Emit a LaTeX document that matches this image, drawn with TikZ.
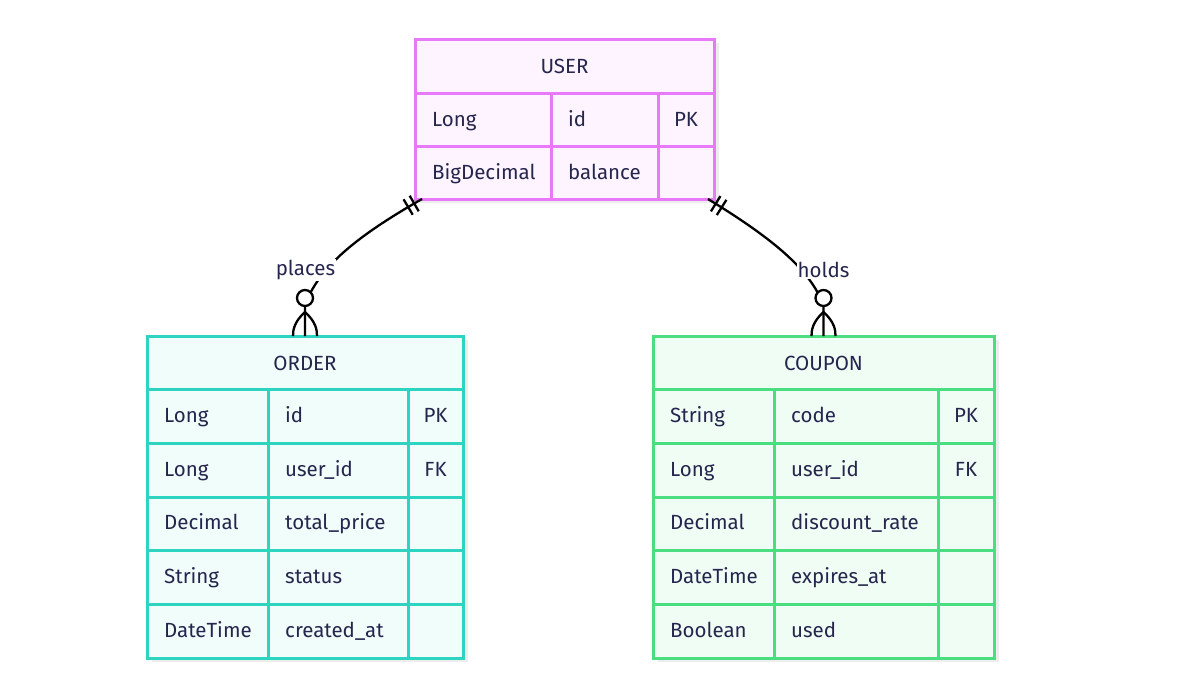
\documentclass[tikz,border=0pt]{standalone}
\usepackage{fontspec}
\setmainfont{Fira Sans}
\usetikzlibrary{decorations.markings,shadows}
\definecolor{ertext}{HTML}{25254D}
\definecolor{userline}{HTML}{E879F9}
\definecolor{userfill}{HTML}{FDF4FF}
\definecolor{orderline}{HTML}{2DD4BF}
\definecolor{orderfill}{HTML}{F0FDFA}
\definecolor{couponline}{HTML}{4ADE80}
\definecolor{couponfill}{HTML}{F0FDF4}
\tikzset{
  entity/.style={draw, line width=3pt, inner sep=0pt, outer sep=0pt,
    drop shadow={shadow xshift=5pt, shadow yshift=-4pt, fill=black!7, opacity=1}},
  cell/.style={anchor=base west, text=ertext, inner sep=0pt, font=\fontsize{20.5}{24}\selectfont},
  headtext/.style={cell, anchor=base},
  keytext/.style={cell, anchor=base},
  rellabel/.style={fill=white, inner sep=1pt, text=ertext, font=\fontsize{20.5}{24}\selectfont},
  relation/.style={line width=2.3pt, postaction={decorate}, decoration={markings,
    mark=at position 9pt with {\draw (0,-9pt) -- (0,9pt);},
    mark=at position 16pt with {\draw (0,-9pt) -- (0,9pt);},
    mark=at position 1 with {
      \draw[fill=white] (-38pt,0) circle (8pt);
      \draw (-24pt,0) .. controls (-14pt,11pt) and (-6pt,12pt) .. (0,12pt);
      \draw (-24pt,0) .. controls (-14pt,-11pt) and (-6pt,-12pt) .. (0,-12pt);}}}
}
\begin{document}
\begin{tikzpicture}[x=1pt, y=-1pt]
  \useasboundingbox (0,0) rectangle (1190,697);

  \node[entity, draw=userline, fill=userfill, minimum width=299pt, minimum height=160pt] (user) at (564.5,119) {};
  \draw[userline, line width=3pt] (415,93) -- (714,93) (415,146) -- (714,146) (551,93) -- (551,199) (658,93) -- (658,199);
  \node[headtext] (user-head) at (564.5,73) {USER};
  \foreach \by/\ta/\tb/\tc [count=\i] in {126/Long/id/PK, 179/BigDecimal/balance/{}} {
    \node[cell] (user-\i-type) at (432,\by) {\ta};
    \node[cell] (user-\i-name) at (568,\by) {\tb};
    \node[keytext] (user-\i-key) at (686,\by) {\tc};
  }

  \node[entity, draw=orderline, fill=orderfill, minimum width=316pt, minimum height=322pt] (order) at (305,497) {};
  \draw[orderline, line width=3pt] (147,389) -- (463,389) (147,443) -- (463,443) (147,497) -- (463,497)
    (147,550) -- (463,550) (147,604) -- (463,604) (268,389) -- (268,658) (408,389) -- (408,658);
  \node[headtext] (order-head) at (305,370) {ORDER};
  \foreach \by/\ta/\tb/\tc [count=\i] in {422/Long/id/PK, 476/Long/user\_id/FK, 529.5/Decimal/total\_price/{},
      583/String/status/{}, 637/DateTime/created\_at/{}} {
    \node[cell] (order-\i-type) at (164,\by) {\ta};
    \node[cell] (order-\i-name) at (285,\by) {\tb};
    \node[keytext] (order-\i-key) at (435.5,\by) {\tc};
  }

  \node[entity, draw=couponline, fill=couponfill, minimum width=341pt, minimum height=322pt] (coupon) at (823.5,497) {};
  \draw[couponline, line width=3pt] (653,389) -- (994,389) (653,443) -- (994,443) (653,497) -- (994,497)
    (653,550) -- (994,550) (653,604) -- (994,604) (774,389) -- (774,658) (938,389) -- (938,658);
  \node[headtext] (coupon-head) at (823.5,370) {COUPON};
  \foreach \by/\ta/\tb/\tc [count=\i] in {422/String/code/PK, 476/Long/user\_id/FK, 529.5/Decimal/discount\_rate/{},
      583/DateTime/expires\_at/{}, 637/Boolean/used/{}} {
    \node[cell] (coupon-\i-type) at (670,\by) {\ta};
    \node[cell] (coupon-\i-name) at (791,\by) {\tb};
    \node[keytext] (coupon-\i-key) at (966,\by) {\tc};
  }

  \draw[relation] ([xshift=7pt]user.south west) .. controls (350,240) and (318,270) .. (305,305) -- (order.north);
  \draw[relation] ([xshift=-6pt]user.south east) .. controls (775,240) and (810,270) .. (823.5,305) -- (coupon.north);
  \node[rellabel] (places) at (305.5,270) {places};
  \node[rellabel] (holds) at (823.5,270) {holds};
\end{tikzpicture}
\end{document}
